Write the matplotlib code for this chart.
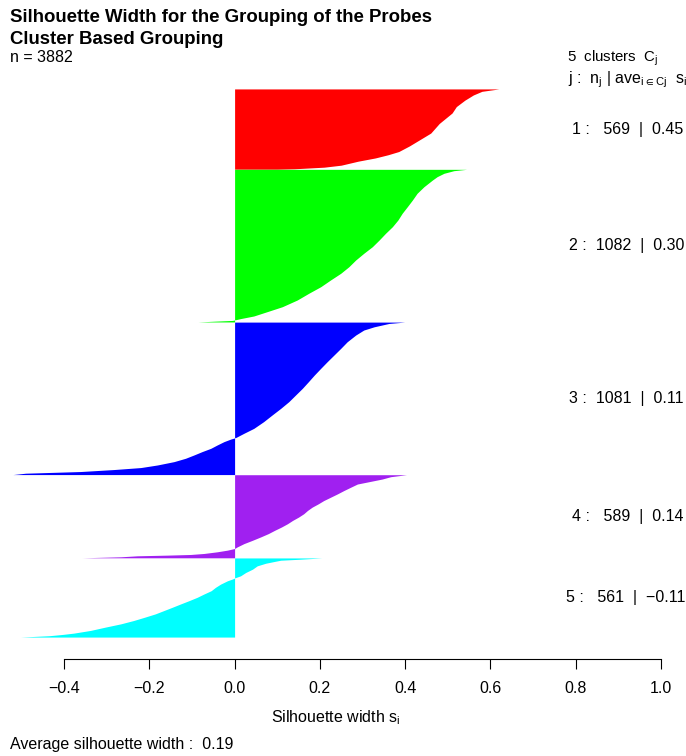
import matplotlib
matplotlib.use("Agg")
import matplotlib.pyplot as plt

plt.rcParams['font.family'] = ['Liberation Sans', 'DejaVu Sans']
plt.rcParams['mathtext.default'] = 'regular'

W, H = 686, 756

cluster_ids = [1, 2, 3, 4, 5]
cluster_sizes = [569, 1082, 1081, 589, 561]
cluster_means = [0.45, 0.30, 0.11, 0.14, -0.11]
cluster_colors = ['#FF0000', '#00FF00', '#0000FF', '#A020F0', '#00FFFF']
n_total = 3882
avg_width = 0.19

# silhouette profiles:
# position inside the cluster (0 = first/top member, 1 = last) and s_i there
c1_pos = [0.0, 0.03, 0.075, 0.14, 0.22, 0.30, 0.43, 0.55, 0.63, 0.71, 0.78, 0.82,
          0.86, 0.90, 0.95, 0.975, 0.995, 1.0]
c1_sil = [0.62, 0.58, 0.56, 0.54, 0.52, 0.51, 0.48, 0.46, 0.435, 0.41, 0.385, 0.36,
          0.33, 0.29, 0.25, 0.21, 0.14, 0.10]

c2_pos = [0.0, 0.009, 0.026, 0.048, 0.070, 0.114, 0.157, 0.201, 0.245, 0.288, 0.332,
          0.376, 0.419, 0.463, 0.507, 0.550, 0.594, 0.638, 0.681, 0.725, 0.769, 0.812,
          0.856, 0.900, 0.932, 0.961, 0.978, 0.987, 0.990, 0.995, 1.0]
c2_sil = [0.544, 0.514, 0.491, 0.475, 0.464, 0.444, 0.428, 0.417, 0.405, 0.393, 0.383,
          0.370, 0.354, 0.339, 0.323, 0.303, 0.284, 0.268, 0.249, 0.225, 0.202, 0.174,
          0.147, 0.112, 0.077, 0.045, 0.014, 0.0, -0.005, -0.047, -0.086]

c3_pos = [0.0, 0.009, 0.031, 0.052, 0.085, 0.129, 0.172, 0.216, 0.260, 0.303, 0.347,
          0.391, 0.434, 0.478, 0.522, 0.566, 0.609, 0.653, 0.697, 0.729, 0.758, 0.767,
          0.784, 0.806, 0.828, 0.849, 0.871, 0.893, 0.915, 0.937, 0.954, 0.967, 0.980,
          0.991, 1.0]
c3_sil = [0.399, 0.362, 0.327, 0.303, 0.284, 0.264, 0.249, 0.233, 0.217, 0.202, 0.187,
          0.173, 0.159, 0.143, 0.127, 0.108, 0.088, 0.068, 0.045, 0.022, 0.002, -0.009,
          -0.025, -0.041, -0.056, -0.076, -0.095, -0.115, -0.142, -0.181, -0.220, -0.283,
          -0.361, -0.490, -0.520]

c4_pos = [0.0, 0.024, 0.052, 0.080, 0.112, 0.151, 0.191, 0.231, 0.271, 0.311, 0.351,
          0.390, 0.430, 0.470, 0.510, 0.550, 0.590, 0.629, 0.669, 0.709, 0.749, 0.789,
          0.829, 0.869, 0.888, 0.908, 0.928, 0.948, 0.960, 0.968, 0.976, 0.988, 1.0]
c4_sil = [0.403, 0.366, 0.346, 0.319, 0.288, 0.272, 0.256, 0.241, 0.225, 0.209, 0.196,
          0.182, 0.171, 0.162, 0.150, 0.136, 0.124, 0.110, 0.094, 0.079, 0.061, 0.042,
          0.022, 0.006, 0.0, -0.017, -0.041, -0.072, -0.103, -0.158, -0.228, -0.267, -0.357]

c5_pos = [0.0, 0.017, 0.029, 0.046, 0.067, 0.100, 0.142, 0.184, 0.226, 0.247, 0.268,
          0.289, 0.331, 0.372, 0.414, 0.456, 0.498, 0.540, 0.582, 0.623, 0.665, 0.707,
          0.749, 0.791, 0.833, 0.874, 0.916, 0.950, 0.967, 0.983, 1.0]
c5_sil = [0.205, 0.151, 0.108, 0.092, 0.073, 0.053, 0.042, 0.026, 0.014, 0.003, -0.006,
          -0.017, -0.033, -0.045, -0.055, -0.072, -0.088, -0.107, -0.127, -0.146, -0.166,
          -0.186, -0.211, -0.237, -0.267, -0.303, -0.338, -0.377, -0.404, -0.435, -0.502]

positions = [c1_pos, c2_pos, c3_pos, c4_pos, c5_pos]
widths = [c1_sil, c2_sil, c3_sil, c4_sil, c5_sil]

xmin = min(min(s) for s in widths)
px_per_unit = 426.4
ax_right = 661
ax_left = ax_right - (1.0 - xmin) * px_per_unit
ax_top, ax_bot = 67, 659

fig = plt.figure(figsize=(W / 100, H / 100), dpi=100)
ax = fig.add_axes([ax_left / W, 1 - ax_bot / H, (ax_right - ax_left) / W, (ax_bot - ax_top) / H])

# bars stacked from the top, one empty bar between clusters
total = n_total + len(cluster_sizes) - 1
start = 0
mids = []
for n, pos, sil, col in zip(cluster_sizes, positions, widths, cluster_colors):
    y = [start + p * n for p in pos]
    ax.fill_betweenx(y, 0, sil, color=col, linewidth=0)
    mids.append(start + n / 2)
    start += n + 1

ax.set_xlim(xmin, 1.0)
ax.set_ylim(total * 1.04, -total * 0.04)
for s in ['top', 'right', 'left']:
    ax.spines[s].set_visible(False)
ax.spines['bottom'].set_bounds(-0.4, 1.0)
ax.spines['bottom'].set_linewidth(0.8)
ax.set_yticks([])
ax.set_xticks([-0.4, -0.2, 0.0, 0.2, 0.4, 0.6, 0.8, 1.0])
ax.set_xticklabels(['\u22120.4', '\u22120.2', '0.0', '0.2', '0.4', '0.6', '0.8', '1.0'])
ax.tick_params(axis='x', length=7, width=0.8, pad=9, labelsize=11.5)

fs = 11.5
fig.text(10 / W, 1 - 18 / H, 'Silhouette Width for the Grouping of the Probes',
         fontsize=13.4, fontweight='bold', va='center', ha='left')
fig.text(10 / W, 1 - 40 / H, 'Cluster Based Grouping',
         fontsize=13.4, fontweight='bold', va='center', ha='left')
fig.text(10 / W, 1 - 58 / H, f'n = {n_total}', fontsize=fs, va='center', ha='left')

fig.text(567 / W, 1 - 58 / H, f'{len(cluster_ids)}  clusters  $C_j$', fontsize=10.8,
         va='center', ha='left')
fig.text(568 / W, 1 - 80 / H, r'j :  $n_j$ | ave$_{i\in Cj}$  $s_i$', fontsize=fs,
         va='center', ha='left')

# cluster labels, placed like R's text(adj = 0.8) at x = 1
fig.canvas.draw()
renderer = fig.canvas.get_renderer()
for j, n, m, ym in zip(cluster_ids, cluster_sizes, cluster_means, mids):
    lab = f'{j} :  {n:>4}  |  {m:.2f}'.replace('-', '\u2212')
    t = ax.text(1.0, ym, lab, fontsize=fs, va='center', ha='left', clip_on=False)
    w = t.get_window_extent(renderer).width
    t.set_x(1.0 - 0.8 * w / px_per_unit)

fig.text(336 / W, 1 - 718 / H, 'Silhouette width $s_i$', fontsize=fs, va='center', ha='center')
fig.text(10 / W, 1 - 745 / H, f'Average silhouette width :  {avg_width:.2f}', fontsize=fs,
         va='center', ha='left')

fig.savefig('out.png', dpi=100)
